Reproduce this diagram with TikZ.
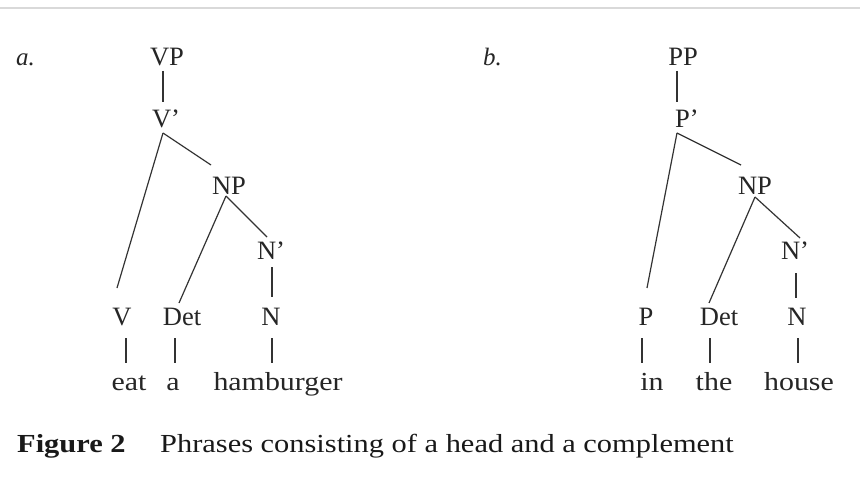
\documentclass[tikz,border=0pt]{standalone}
\usepackage{fontspec}
\setmainfont{Liberation Serif}
\newfontfamily\wordfont{Liberation Serif}[FakeStretch=1.15]
\newfontfamily\captfont{Liberation Serif}[FakeStretch=1.17]
\newcommand{\pr}{{\char"27}}
\begin{document}
\begin{tikzpicture}[x=1pt,y=-1pt,
  lbl/.style={anchor=base,inner sep=0pt,font=\fontsize{26.5}{30}\selectfont,text=black!85},
  word/.style={anchor=base,inner sep=0pt,font=\wordfont\fontsize{26}{30}\selectfont,text=black!85},
  tag/.style={anchor=base west,inner sep=0pt,font=\fontsize{25}{30}\selectfont\itshape,text=black!85},
  branch/.style={line width=1.2pt,draw=black!80},
  capt/.style={anchor=base west,inner sep=0pt,font=\captfont\fontsize{26}{30}\selectfont,text=black!90}]
\useasboundingbox (0,0) rectangle (860,492);
\fill[white] (0,0) rectangle (860,492);
\draw[line width=1.5pt,draw=black!15] (0,8) -- (860,8);

% ---- tree a
\node[tag] (la) at (16,66) {a.};
\node[lbl] (VP) at (167,66) {VP};
\node[lbl] (Vb) at (166,128) {V\pr};
\node[lbl] (NPa) at (229,195) {NP};
\node[lbl] (Nba) at (271,259) {N\pr};
\node[lbl] (V) at (122,325) {V};
\node[lbl] (Deta) at (182,325) {Det};
\node[lbl] (Na) at (271,325) {N};
\node[word] (eat) at (129,390) {eat};
\node[word] (wa) at (173,390) {a};
\node[word] (ham) at (278,390) {hamburger};

\draw[branch] ([shift={(-4,5)}]VP.base) -- ([shift={(-3,-26)}]Vb.base);
\draw[branch] ([shift={(-3,5)}]Vb.base) -- ([shift={(-18,-30)}]NPa.base);
\draw[branch] ([shift={(-3,5)}]Vb.base) -- ([shift={(-5,-37)}]V.base);
\draw[branch] ([shift={(-3,1)}]NPa.base) -- ([shift={(-3,-22)}]Deta.base);
\draw[branch] ([shift={(-3,1)}]NPa.base) -- ([shift={(-4,-22)}]Nba.base);
\draw[branch] ([shift={(1,8)}]Nba.base) -- ([shift={(1,-28)}]Na.base);
\draw[branch] ([shift={(4,13)}]V.base) -- ([shift={(-3,-27)}]eat.base);
\draw[branch] ([shift={(-7,13)}]Deta.base) -- ([shift={(2,-27)}]wa.base);
\draw[branch] ([shift={(1,13)}]Na.base) -- ([shift={(-6,-27)}]ham.base);

% ---- tree b
\node[tag] (lb) at (483,66) {b.};
\node[lbl] (PP) at (683,66) {PP};
\node[lbl] (Pb) at (687,128) {P\pr};
\node[lbl] (NPb) at (755,195) {NP};
\node[lbl] (Nbb) at (795,259) {N\pr};
\node[lbl] (P) at (646,325) {P};
\node[lbl] (Detb) at (719,325) {Det};
\node[lbl] (Nb) at (797,325) {N};
\node[word] (in) at (652,390) {in};
\node[word] (the) at (714,390) {the};
\node[word] (house) at (799,390) {house};

\draw[branch] ([shift={(-6,5)}]PP.base) -- ([shift={(-10,-26)}]Pb.base);
\draw[branch] ([shift={(-10,5)}]Pb.base) -- ([shift={(-14,-30)}]NPb.base);
\draw[branch] ([shift={(-10,5)}]Pb.base) -- ([shift={(1,-37)}]P.base);
\draw[branch] ([shift={(0,2)}]NPb.base) -- ([shift={(-10,-22)}]Detb.base);
\draw[branch] ([shift={(0,2)}]NPb.base) -- ([shift={(5,-21)}]Nbb.base);
\draw[branch] ([shift={(1,14)}]Nbb.base) -- ([shift={(-1,-27)}]Nb.base);
\draw[branch] ([shift={(-4,13)}]P.base) -- ([shift={(-10,-27)}]in.base);
\draw[branch] ([shift={(-9,13)}]Detb.base) -- ([shift={(-4,-27)}]the.base);
\draw[branch] ([shift={(1,13)}]Nb.base) -- ([shift={(-1,-27)}]house.base);

% ---- caption
\node[capt,font=\captfont\fontsize{26}{30}\selectfont\bfseries] (fig) at (17,452) {Figure 2};
\node[capt] (cap) at (160,452) {Phrases consisting of a head and a complement};
\end{tikzpicture}
\end{document}
